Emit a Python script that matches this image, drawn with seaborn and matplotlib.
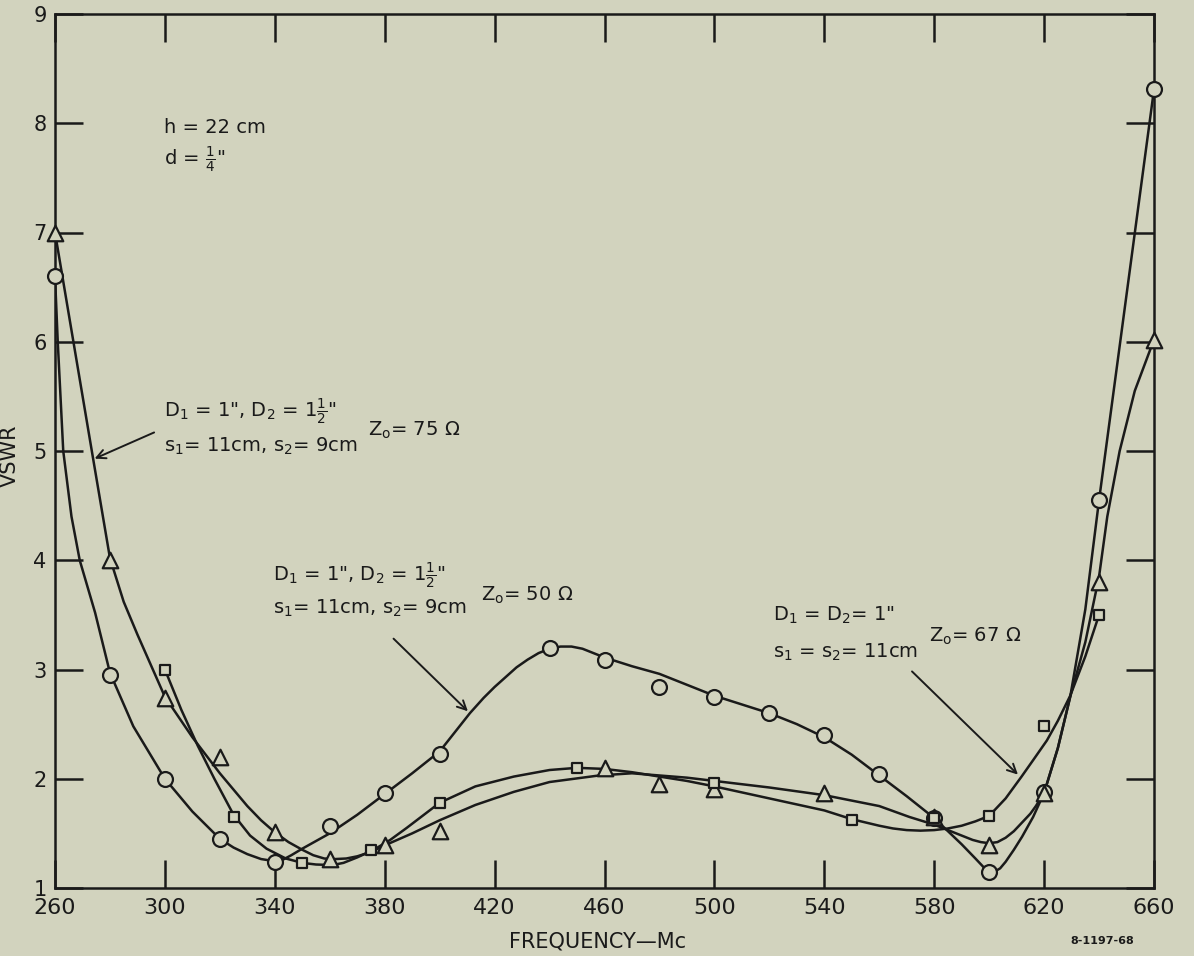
import numpy as np
import pandas as pd
import matplotlib
matplotlib.use("Agg")
import matplotlib.pyplot as plt
import seaborn as sns

# ---------------- data ----------------
# measured points, Z0 = 50 ohm (circles)
circ_f = [260, 280, 300, 320, 340, 360, 380, 400, 440, 460, 480, 500, 520, 540, 560, 580, 600, 620, 640, 660]
circ_v = [6.60, 2.95, 2.00, 1.45, 1.24, 1.57, 1.87, 2.23, 3.20, 3.09, 2.84, 2.75, 2.60, 2.40, 2.04, 1.64, 1.15, 1.88, 4.55, 8.31]
# measured points, Z0 = 75 ohm (triangles)
tri_f = [260, 280, 300, 320, 340, 360, 380, 400, 460, 480, 500, 540, 580, 600, 620, 640, 660]
tri_v = [7.00, 4.00, 2.74, 2.20, 1.51, 1.27, 1.39, 1.52, 2.10, 1.95, 1.91, 1.87, 1.65, 1.39, 1.87, 3.80, 6.02]
# measured points, Z0 = 67 ohm (squares)
sq_f = [300, 325, 350, 375, 400, 450, 500, 550, 580, 600, 620, 640]
sq_v = [3.00, 1.65, 1.23, 1.35, 1.78, 2.10, 1.96, 1.62, 1.64, 1.66, 2.48, 3.50]

# hand-drawn fitted curves
circ_cf = [260, 261, 263, 266, 269, 274.6, 280, 288.5, 300, 310, 320, 325, 330, 335, 340, 343, 346, 350,
           360, 370, 380, 390, 400, 411, 416, 420, 424, 428, 432, 436, 440, 444, 448, 452, 456, 460, 470,
           480, 490, 500, 510, 520, 530, 540, 550, 560, 570, 580, 590, 595, 598, 600, 602, 604, 606, 609,
           612, 616, 620, 625, 629.5, 635, 640, 650, 660]
circ_cv = [6.60, 6.00, 5.00, 4.40, 4.00, 3.52, 2.97, 2.48, 2.00, 1.70, 1.45, 1.37, 1.31, 1.265, 1.245,
           1.26, 1.30, 1.36, 1.50, 1.67, 1.86, 2.05, 2.25, 2.60, 2.74, 2.84, 2.93, 3.02, 3.09, 3.15, 3.19,
           3.21, 3.21, 3.19, 3.15, 3.11, 3.03, 2.96, 2.86, 2.76, 2.68, 2.60, 2.50, 2.38, 2.22, 2.03, 1.84,
           1.64, 1.40, 1.27, 1.19, 1.155, 1.15, 1.18, 1.24, 1.35, 1.47, 1.65, 1.87, 2.28, 2.75, 3.55, 4.55,
           6.43, 8.31]
tri_cf = [260, 266.7, 273.4, 280, 285, 290, 300, 310, 320, 330, 335, 340, 345, 350, 354, 358, 362, 366,
          370, 375, 380, 390, 400, 413, 427, 440, 458, 470, 480, 490, 500, 520, 540, 560, 571, 580, 590,
          594, 597, 600, 603, 606, 609, 612, 615, 617, 620, 625, 629.5, 635, 640, 643, 647.5, 653, 660]
tri_cv = [7.00, 6.00, 5.00, 4.02, 3.62, 3.32, 2.75, 2.38, 2.05, 1.75, 1.62, 1.51, 1.42, 1.35, 1.30, 1.27,
          1.265, 1.27, 1.29, 1.33, 1.39, 1.50, 1.62, 1.76, 1.88, 1.97, 2.03, 2.05, 2.03, 2.01, 1.98, 1.92,
          1.85, 1.75, 1.65, 1.58, 1.48, 1.44, 1.42, 1.41, 1.42, 1.46, 1.52, 1.60, 1.68, 1.75, 1.87, 2.28,
          2.75, 3.25, 3.85, 4.40, 5.00, 5.55, 6.02]
sq_cf = [300, 306, 312, 318, 325, 331, 337, 344, 350, 355, 361, 365, 370, 376, 382, 388, 400, 413, 427,
         440, 450, 460, 470, 480, 490, 500, 520, 540, 550, 560, 565, 570, 575, 580, 585, 590, 595, 600,
         606, 611.8, 616, 621, 625, 629.5, 635, 640]
sq_cv = [3.00, 2.63, 2.30, 2.00, 1.67, 1.48, 1.36, 1.27, 1.23, 1.215, 1.21, 1.23, 1.28, 1.35, 1.44, 1.55,
         1.78, 1.93, 2.02, 2.08, 2.10, 2.09, 2.06, 2.02, 1.98, 1.93, 1.82, 1.71, 1.63, 1.57, 1.545, 1.53,
         1.525, 1.53, 1.545, 1.57, 1.61, 1.66, 1.82, 2.02, 2.17, 2.35, 2.53, 2.76, 3.12, 3.50]

x_ticks = [260, 300, 340, 380, 420, 460, 500, 540, 580, 620, 660]
y_ticks = [1, 2, 3, 4, 5, 6, 7, 8, 9]

# ---------------- style ----------------
BG = "#d2d3be"
INK = "#1a1a1a"
sns.set_style("ticks")
plt.rcParams["font.family"] = ["DejaVu Sans"]
plt.rcParams["mathtext.default"] = "regular"
plt.rcParams["mathtext.fontset"] = "dejavusans"

fig = plt.figure(figsize=(11.94, 9.56), dpi=100, facecolor=BG)
ax = fig.add_axes([55 / 1194, 1 - 888 / 956, 1099 / 1194, 874 / 956])
ax.set_facecolor(BG)

curves = [(circ_cf, circ_cv), (tri_cf, tri_cv), (sq_cf, sq_cv)]
for cf, cv in curves:
    d = pd.DataFrame({"f": cf, "v": cv})
    sns.lineplot(data=d, x="f", y="v", ax=ax, color=INK, lw=1.8, sort=False,
                 estimator=None, zorder=2)
for ln in ax.lines:
    ln.set_solid_joinstyle("round")

pts = [(circ_f, circ_v, "o", 115), (tri_f, tri_v, "^", 125), (sq_f, sq_v, "s", 55)]
for pf, pv, mk, sz in pts:
    d = pd.DataFrame({"f": pf, "v": pv})
    sns.scatterplot(data=d, x="f", y="v", ax=ax, marker=mk, s=sz, facecolor=BG,
                    edgecolor=INK, linewidth=1.6, zorder=3, clip_on=False)

ax.set_xlim(260, 660)
ax.set_ylim(1, 9)
ax.set_xticks(x_ticks)
ax.set_yticks(y_ticks)
ax.tick_params(direction="in", length=20, width=1.8, top=True, right=True,
               labeltop=False, labelright=False, colors=INK)
ax.tick_params(axis="x", labelsize=16, pad=7)
ax.tick_params(axis="y", labelsize=15, pad=6)
for s in ax.spines.values():
    s.set_linewidth(1.8)
    s.set_color(INK)

ax.set_xlabel("FREQUENCY—Mc", fontsize=15, color=INK)
ax.xaxis.set_label_coords(0.494, -0.050)
ax.set_ylabel("VSWR", fontsize=15, color=INK, va="center")
ax.yaxis.set_label_coords(-0.041, 0.495)

tk = dict(fontsize=14, color=INK, ha="left", va="center")
ax.text(299.5, 7.96, "h = 22 cm", **tk)
ax.text(299.5, 7.66, r'd = $\frac{1}{4}$"', **tk)

ax.text(299.5, 5.36, r'D$_1$ = 1", D$_2$ = 1$\frac{1}{2}$"', **tk)
ax.text(299.5, 5.04, r"s$_1$= 11cm, s$_2$= 9cm", **tk)
ax.text(374, 5.19, r"Z$_o$= 75 Ω", **tk)

ax.text(339.5, 3.86, r'D$_1$ = 1", D$_2$ = 1$\frac{1}{2}$"', **tk)
ax.text(339.5, 3.56, r"s$_1$= 11cm, s$_2$= 9cm", **tk)
ax.text(415, 3.68, r"Z$_o$= 50 Ω", **tk)

ax.text(521.5, 3.50, r'D$_1$ = D$_2$= 1"', **tk)
ax.text(521.5, 3.16, r"s$_1$ = s$_2$= 11cm", **tk)
ax.text(578, 3.30, r"Z$_o$= 67 Ω", **tk)

arw = dict(arrowstyle="->", color=INK, lw=1.4, mutation_scale=16)
ax.annotate("", xy=(273.5, 4.92), xytext=(297.0, 5.18), arrowprops=arw)
ax.annotate("", xy=(411.0, 2.60), xytext=(382.5, 3.30), arrowprops=arw)
ax.annotate("", xy=(611.2, 2.02), xytext=(571.2, 3.00), arrowprops=arw)

fig.text(1102 / 1194, 1 - 941 / 956, "8-1197-68", fontsize=8, color=INK,
         ha="center", va="center", fontweight="bold")

fig.savefig("out.png", dpi=100, facecolor=BG)
